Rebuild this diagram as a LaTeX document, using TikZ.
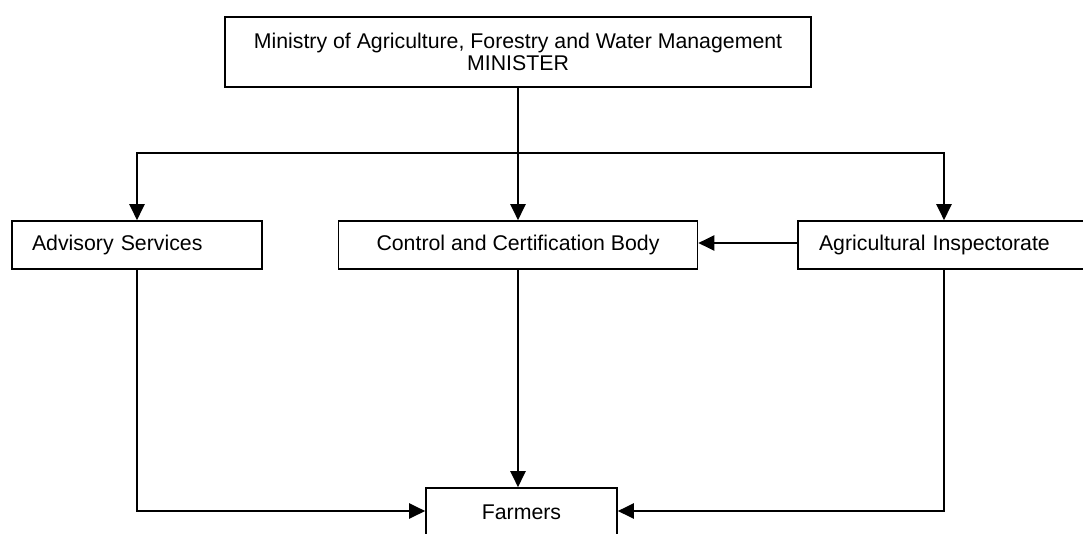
\documentclass[tikz,border=0pt]{standalone}
\usepackage{fontspec}
\setmainfont{Liberation Sans}
\usetikzlibrary{arrows.meta}
\begin{document}
\begin{tikzpicture}[x=1pt,y=-1pt,
  font=\fontsize{21.3}{22}\selectfont,
  box/.style={draw=black,line width=1.6pt,rectangle,inner sep=0pt,
              minimum height=48pt},
  link/.style={line width=2.2pt,-{Triangle[length=16pt,width=15pt]}},
  wire/.style={line width=2.2pt}]
\useasboundingbox (0,0) rectangle (1083,533);

% boxes
\node[box,minimum width=586pt,minimum height=70pt,align=center] (minister) at (518,52)
  {Ministry of Agriculture, Forestry and Water Management\\MINISTER};
\node[box,minimum width=250pt,text width=210pt,align=left] (advisory) at (137,245)
  {Advisory Services};
\node[box,minimum width=359pt,align=center] (control) at (518,245)
  {Control and Certification Body};
\node[box,minimum width=292pt,text width=250pt,align=left] (agri) at (944,245)
  {Agricultural Inspectorate};
\node[box,minimum width=191pt] (farmers) at (521.5,512) {Farmers};

% distribution bus below the ministry
\coordinate (bus) at (518,153);
\draw[wire] (advisory.north |- bus) -- (agri.north |- bus);
\draw[link] (minister.south) -- (control.north);
\draw[link] (bus) -| (advisory.north);
\draw[link] (bus) -| (agri.north);

% inspectorate reports to certification body
\draw[link] (agri.west |- 0,243) -- (control.east |- 0,243);

% lines down to the farmers
\draw[link] (control.south) -- (farmers.north -| control.south);
\draw[link] (advisory.south) |- (farmers.west |- 0,511);
\draw[link] (agri.south) |- (farmers.east |- 0,511);
\end{tikzpicture}
\end{document}
